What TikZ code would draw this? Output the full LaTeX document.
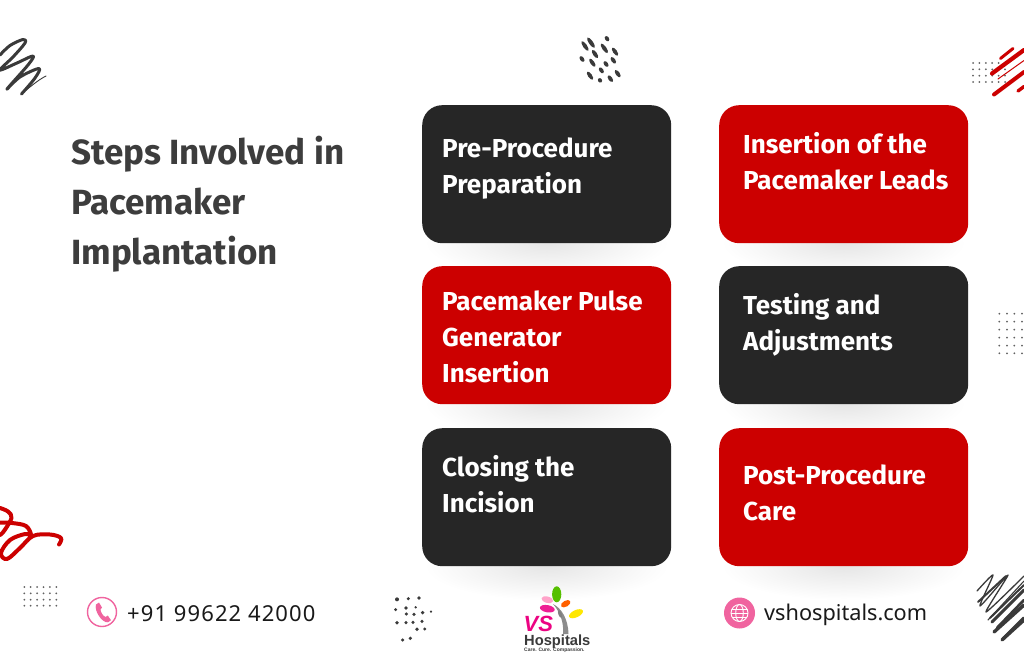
\documentclass[tikz,border=0pt]{standalone}
\usepackage{fontspec}
\setmainfont{Fira Sans}
\newfontfamily\foot{Noto Sans}
\newfontfamily\footsp[LetterSpace=5]{Noto Sans}
\newfontfamily\logofont{Liberation Sans}
\usetikzlibrary{calc}
\definecolor{cdark}{HTML}{262626}
\definecolor{cred}{HTML}{CC0000}
\definecolor{ctitle}{HTML}{3D3D3D}
\definecolor{cpink}{HTML}{F0649F}
\definecolor{cink}{HTML}{3A3A3A}
\tikzset{
 card/.style={draw=none,rounded corners=20pt,minimum width=249pt,minimum height=138pt,inner sep=0pt,anchor=north west},
 darkcard/.style={card,fill=cdark},
 redcard/.style={card,fill=cred},
 cardtext/.style={anchor=west,text=white,align=left,inner sep=0pt,font=\fontsize{26}{36}\selectfont\bfseries},
 titletext/.style={anchor=north west,text=ctitle,align=left,inner sep=0pt,font=\fontsize{35}{50}\selectfont\bfseries},
 foottext/.style={anchor=west,inner sep=0pt,text=black!90},
 dot/.style={fill=black!62,draw=none},
 fleck/.style={fill=cink,draw=none},
 scrib/.style={draw=cink,line cap=round,line join=round},
 redscrib/.style={draw=cred,line cap=round,line join=round},
 leaf/.style={draw=none},
}
\newcommand{\shadowat}[3]{\shade[inner color=black!10,outer color=white,draw=none] (#1,#2) ellipse (#3 and 34);}
\begin{document}
\begin{tikzpicture}[x=1pt,y=-1pt]
\useasboundingbox (0,0) rectangle (1024,671);
\fill[white] (0,0) rectangle (1024,671);
% soft shadows
\foreach \cx in {546.5,843.5}{
 \foreach \cy in {243,404,566}{\shadowat{\cx}{\cy}{122}}
}
% cards
\node[darkcard] (c1) at (422,105) {};
\node[redcard] (c2) at (719,105) {};
\node[redcard] (c3) at (422,266) {};
\node[darkcard] (c4) at (719,266) {};
\node[darkcard] (c5) at (422,428) {};
\node[redcard] (c6) at (719,428) {};
\node[cardtext] (t1) at (442,169) {Pre-Procedure\\Preparation};
\node[cardtext] (t2) at (743,161) {Insertion of the\\Pacemaker Leads};
\node[cardtext] (t3) at (442,337) {Pacemaker Pulse\\Generator\\Insertion};
\node[cardtext] (t4) at (743,325) {Testing and\\Adjustments};
\node[cardtext] (t5) at (442,484) {Closing the\\Incision};
\node[cardtext] (t6) at (743,493) {Post-Procedure\\Care};
% title
\node[titletext] (title) at (71,136) {Steps Involved in\\Pacemaker\\Implantation};
% dot grids
\foreach \x in {973,979.4,985.8,992.2,998.6}{\foreach \y in {63,69.3,75.7,82}{\fill[dot] (\x,\y) circle (1);}}
\foreach \y in {69.3,75.7,82}{\fill[dot] (1005,\y) circle (1);}
\foreach \x in {24.3,30.7,37.1,43.5,49.9,56.3}{\foreach \y in {587,593.3,599.7,605.7}{\fill[dot] (\x,\y) circle (1);}}
\foreach \x in {999.3,1007,1014.3,1022}{\foreach \y in {313.7,321.6,329.6,337.6,345.6,353.3}{\fill[dot] (\x,\y) circle (1);}}
% flecks, top
\foreach \a/\b/\l in {75/63/6,93/53/6.5,141/41/3,133/70/6,165/80/5,105/87/5,66/102/3.5,97/113/5,138/117/3.5,160/106/4,124/136/3.5,90/152/5,173/146/4.5,151/161/4,120/166/2.5}{
 \fill[fleck] ({560+\a/3},{25+\b/3}) [rotate around={-55:({560+\a/3},{25+\b/3})}] ellipse (\l*0.95 and 2);
}
% flecks, bottom
\foreach \a/\b/\r in {36/58/2,70/56/1.7,102/54/1.8,32/89/1.6,63/84/1.8,92/82/1.3,64/102/1.7,87/103/1.8,113/98/1.9,138/95/1.2,36/128/1.9,63/128/1.7,84/127/1.7,111/124/1.7,96/148/1.9,119/147/1.6,53/180/1.7,76/175/1.8}{
 \fill[fleck] ({385+\a/3},{580+\b/3}) circle (\r);
}
% black scribble, top left
\draw[scrib,line width=3pt] plot[smooth,tension=.55] coordinates {(0,55) (10,45.5) (23,39.5) (25,43) (13,57) (0,70) (17,63) (33,56) (28,65) (7,89) (20,77) (39,68.5) (35,78) (21.5,94)};
\draw[scrib,line width=.9pt] (21.5,94) .. controls (30,87) and (38,80) .. (46,76);
% red scribble, bottom left
\draw[redscrib,line width=4pt] plot[smooth,tension=.6] coordinates {(59,544.5) (61,538) (50,534.5) (33,536) (20,548) (7,559) (1,553) (10,540) (25,534) (31,535) (26,526) (12,523) (0,522.5)};
\draw[redscrib,line width=4pt] plot[smooth,tension=.6] coordinates {(0,508) (8,511.5) (11.5,518) (4,531) (0,535)};
% red strokes, top right
\draw[redscrib,line width=3pt] (1000.5,58.5) -- (1013,48.5);
\draw[redscrib,line width=4.2pt] (992,73.5) -- (1024,50);
\draw[redscrib,line width=1pt] (998,79) -- (1024,60.5);
\draw[redscrib,line width=4pt] (994,94.5) -- (1024,72);
\draw[redscrib,line width=3.4pt] (1018,91) -- (1024,86.5);
% black scribble, bottom right
\draw[scrib,line width=1.3pt] plot[smooth,tension=.4] coordinates {(977,591) (993,575) (980,606) (1008,575) (986,612) (1024,576)};
\draw[scrib,line width=1.1pt] (988,620) -- (1024,581);
\draw[scrib,line width=2pt] (978,602) -- (1006,576);
\draw[scrib,line width=2pt] (990,618) -- (1024,585);
\draw[scrib,line width=2.8pt] (997,628) -- (1024,600);
\draw[scrib,line width=3pt] (992,622) -- (1024,590);
\draw[scrib,line width=3.4pt] (1002,640) -- (1024,618);
\draw[scrib,line width=3.4pt] (994,632) -- (1024,605);
\draw[scrib,line width=3.4pt] (1003,639) -- (1024,620);
% phone icon
\coordinate (pc) at (102,612);
\draw[cpink,line width=1.4pt] (pc) circle (14.5);
\fill[cpink] (96,604.5) -- (99,602.5) -- (102,607.5) -- (100.5,609.5)
 .. controls (100.5,612) and (103,616) .. (105.5,617)
 -- (107.8,615.5) -- (111,620.2) -- (108,622.3)
 .. controls (102,623) and (94,611) .. (96,604.5) -- cycle;
% globe icon
\coordinate (gc) at (739.5,613);
\fill[cpink] (gc) circle (15.5);
\begin{scope}[draw=white,line width=.9pt]
\draw (gc) circle (8.5);
\draw (gc) ellipse (3.8 and 8.5);
\draw ($(gc)+(-8.5,0)$) -- ($(gc)+(8.5,0)$);
\draw ($(gc)+(-7.4,-4)$) -- ($(gc)+(7.4,-4)$);
\draw ($(gc)+(-7.4,4)$) -- ($(gc)+(7.4,4)$);
\end{scope}
% footer text
\node[foottext,font=\footsp\fontsize{22}{24}\selectfont] (ph) at (127,614) {+91 99622 42000};
\node[foottext,font=\foot\fontsize{21.7}{24}\selectfont] (web) at (764,615) {vshospitals.com};
% logo
\fill[black!45] (553,604) .. controls (561,608) and (568,618) .. (568.5,634) -- (563,634) .. controls (564,622) and (560,612) .. (553,604) -- cycle;
\fill[leaf,fill=black!50] (560,614) [rotate around={-70:(560,614)}] ellipse (4 and 1.7);
\fill[leaf,fill=green!55!yellow!75!black] (556.7,594.3) [rotate around={90:(556.7,594.3)}] ellipse (8 and 4.6);
\fill[leaf,fill=pink!85!magenta] (547.3,599.7) [rotate around={-15:(547.3,599.7)}] ellipse (6 and 3.2);
\fill[leaf,fill=magenta!85!pink] (547.3,608.7) [rotate around={-10:(547.3,608.7)}] ellipse (7.5 and 3.6);
\fill[leaf,fill=orange!75!red] (565.7,603.7) [rotate around={30:(565.7,603.7)}] ellipse (5.2 and 3);
\fill[leaf,fill=yellow!90!orange] (576,613.7) [rotate around={25:(576,613.7)}] ellipse (7.5 and 3.6);
\node[anchor=base west,inner sep=0pt,text=magenta!90!red,font=\logofont\fontsize{22}{22}\selectfont\bfseries\itshape] (vs) at (523.5,631) {VS};
\node[anchor=base west,inner sep=0pt,text=cink,font=\logofont\fontsize{14.7}{15}\selectfont\bfseries] (hosp) at (524,645.5) {Hospitals};
\node[anchor=base west,inner sep=0pt,text=cink,font=\logofont\fontsize{5}{5}\selectfont\bfseries] (tag) at (524,651.5) {Care. Cure. Compassion.};
\end{tikzpicture}
\end{document}
